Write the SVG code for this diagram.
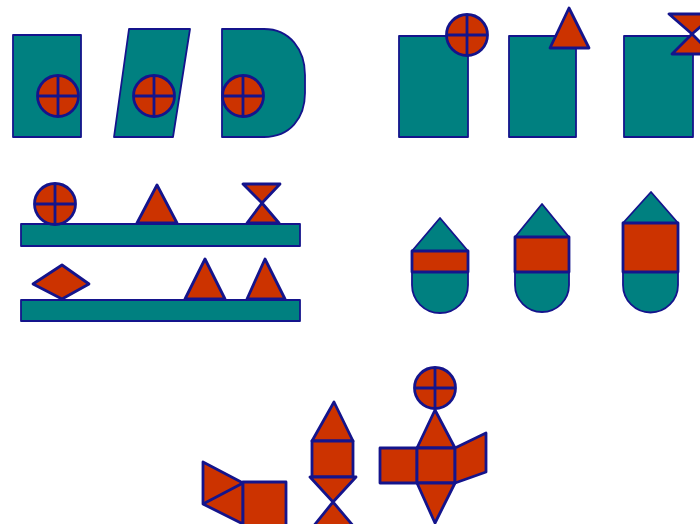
<svg xmlns="http://www.w3.org/2000/svg" width="700" height="524" viewBox="0 0 700 524">
<style>
.t{fill:#008080;stroke:#14148c;stroke-width:1.8;stroke-linejoin:round}
.r{fill:#cc3300;stroke:#14148c;stroke-width:2.8;stroke-linejoin:round}
.l{fill:none;stroke:#14148c;stroke-width:2.8}
</style>
<defs>
<g id="cross">
<circle class="r" cx="0" cy="0" r="20.5"/>
<path class="l" d="M-20.5,0H20.5M0,-20.5V20.5"/>
</g>
</defs>
<rect width="700" height="524" fill="#ffffff"/>
<g id="fig1">
<rect class="t" x="13" y="35" width="68" height="102"/>
<use href="#cross" x="58" y="96"/>
</g>
<g id="fig2">
<polygon class="t" points="129,29 190,29 173,137 114,137"/>
<use href="#cross" x="154" y="96"/>
</g>
<g id="fig3">
<path class="t" d="M222,29H264C290,29 305,50 305,75V93C305,118 290,137 264,137H222Z"/>
<use href="#cross" x="243" y="96"/>
</g>
<g id="fig4">
<rect class="t" x="399" y="36" width="69" height="101"/>
<use href="#cross" x="467" y="35"/>
</g>
<g id="fig5">
<rect class="t" x="509" y="36" width="67" height="101"/>
<polygon class="r" points="569,8 589,48 550,48"/>
</g>
<g id="fig6">
<rect class="t" x="624" y="36" width="69" height="101"/>
<polygon class="r" points="669,14 715,14 692,34 712,54 672,54 692,34"/>
</g>
<g id="fig7">
<rect class="t" x="21" y="224" width="279" height="22"/>
<use href="#cross" x="55" y="204"/>
<polygon class="r" points="157,185 177,223 137,223"/>
<polygon class="r" points="243,184 280,184 262,203 279,223 247,223 262,203"/>
</g>
<g id="fig8">
<rect class="t" x="21" y="300" width="279" height="21"/>
<polygon class="r" points="33,284 62,265 89,284 62,299"/>
<polygon class="r" points="205,259 225,299 185,299"/>
<polygon class="r" points="265,259 285,299 247,299"/>
</g>
<g id="fig9">
<path class="t" d="M440,218L468,251V285A28,28 0 0 1 412,285V251Z"/>
<rect class="r" x="412" y="251" width="56" height="21"/>
</g>
<g id="fig10">
<path class="t" d="M542,204L569,237V285A27,27 0 0 1 515,285V237Z"/>
<rect class="r" x="515" y="237" width="54" height="35"/>
</g>
<g id="fig11">
<path class="t" d="M651,192L678,223V285A27.5,27.5 0 0 1 623,285V223Z"/>
<rect class="r" x="623" y="223" width="55" height="49"/>
</g>
<g id="fig12">
<polygon class="r" points="203,462 243,483 243,524 203,504"/>
<path class="l" d="M203,504L243,483"/>
<rect class="r" x="243" y="482" width="43" height="44"/>
</g>
<g id="fig13">
<polygon class="r" points="334,402 353,441 312,441"/>
<rect class="r" x="312" y="441" width="41" height="36"/>
<polygon class="r" points="310,477 356,477 333,502 355,528 312,528 333,502"/>
</g>
<g id="fig14">
<use href="#cross" x="435" y="388"/>
<polygon class="r" points="435,410 455,448 417,448"/>
<rect class="r" x="380" y="448" width="37" height="35"/>
<rect class="r" x="417" y="448" width="38" height="35"/>
<polygon class="r" points="455,448 486,433 486,472 455,483"/>
<polygon class="r" points="417,483 455,483 435,523"/>
</g>
</svg>
